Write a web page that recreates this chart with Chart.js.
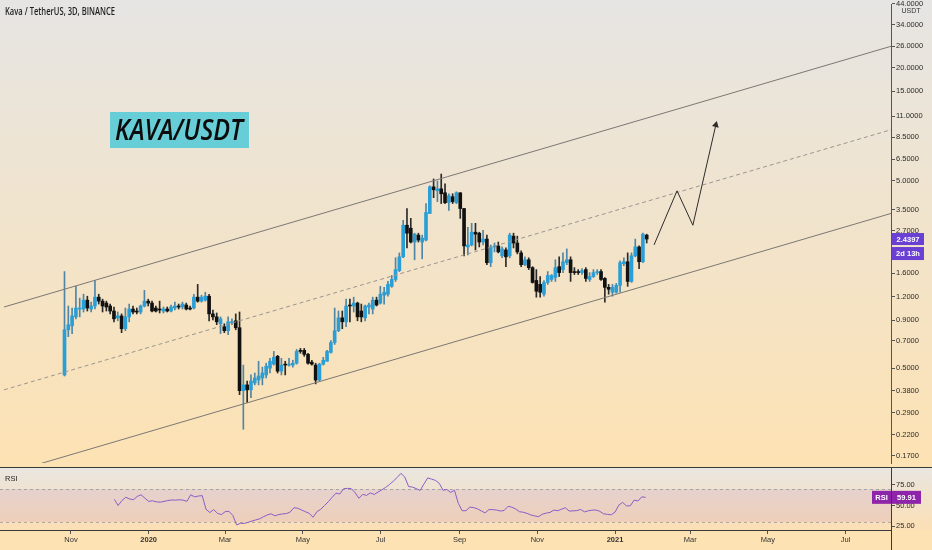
<!DOCTYPE html>
<html>
<head>
<meta charset="utf-8">
<title>KAVA/USDT</title>
<script src="https://cdn.jsdelivr.net/npm/chart.js"></script>
<style>
  body { margin: 0; background: #fde2b3; }
  #wrap { position: relative; width: 932px; height: 550px; overflow: hidden; }
  #pricePane {
    position: absolute; left: 0; top: 0; width: 932px; height: 467px;
    background: linear-gradient(#e6e5e3, #fde2b3);
  }
  #rsiPane {
    position: absolute; left: 0; top: 467px; width: 932px; height: 83px;
    background: linear-gradient(#e9e6e1 0px, #fbdfb5 63px, #fde2b3 63px);
  }
  canvas { display: block; }
</style>
</head>
<body>
<div id="wrap">
  <div id="pricePane"><canvas id="priceChart" width="932" height="467"></canvas></div>
  <div id="rsiPane"><canvas id="rsiChart" width="932" height="83"></canvas></div>
</div>

<script>
  // days are counted from 1 Nov 2019, one candle every 3 days
  const firstDay = -8;
  const stepDays = 3;

  const opens = [
    0.460, 0.801, 0.841, 0.938, 1.033, 1.033, 1.152, 1.033, 1.072, 1.195,
    1.138, 1.111, 1.072, 1.008, 0.927, 0.949, 0.811, 0.938, 1.033, 1.008,
    0.996, 1.072, 1.138, 1.111, 1.046, 1.033, 1.008, 1.033, 1.008, 1.046,
    1.072, 1.059, 1.085, 1.046, 1.046, 1.195, 1.138, 1.152, 1.209, 0.973,
    0.938, 0.862, 0.831, 0.792, 0.872, 0.894, 0.821, 0.379, 0.407, 0.383,
    0.417, 0.432, 0.443, 0.460, 0.500, 0.525, 0.578, 0.482, 0.525, 0.519,
    0.519, 0.531, 0.622, 0.622, 0.592, 0.538, 0.519, 0.432, 0.525, 0.544,
    0.607, 0.685, 0.792, 0.927, 0.883, 1.085, 1.072, 1.111, 1.008, 0.927,
    1.059, 1.033, 1.152, 1.111, 1.224, 1.239, 1.365, 1.485, 1.656, 1.961,
    2.889, 2.786, 2.351, 2.559, 2.351, 2.409, 3.340, 4.630, 4.410, 4.519,
    4.305, 3.815, 4.102, 3.815, 4.305, 3.548, 2.214, 2.268, 2.653, 2.621,
    2.351, 2.438, 1.824, 2.214, 2.241, 1.985, 2.134, 1.985, 2.528, 2.323,
    2.058, 1.780, 1.891, 1.717, 1.467, 1.398, 1.239, 1.432, 1.485, 1.522,
    1.738, 1.676, 1.824, 1.891, 1.636, 1.636, 1.616, 1.676, 1.485, 1.540,
    1.616, 1.636, 1.504, 1.348, 1.269, 1.269, 1.381, 1.802, 1.846, 1.450,
    1.985, 2.214, 1.846, 2.559
  ];
  const highs = [
    1.636, 1.072, 1.046, 1.365, 1.181, 1.239, 1.209, 1.124, 1.467, 1.239,
    1.166, 1.138, 1.098, 1.059, 0.996, 0.973, 1.046, 1.098, 1.072, 1.046,
    1.085, 1.300, 1.166, 1.138, 1.072, 1.138, 1.059, 1.059, 1.085, 1.124,
    1.098, 1.124, 1.111, 1.072, 1.239, 1.398, 1.224, 1.269, 1.239, 1.021,
    0.984, 0.938, 0.862, 0.938, 0.916, 0.973, 0.996, 0.519, 0.427, 0.460,
    0.471, 0.544, 0.506, 0.531, 0.564, 0.614, 0.585, 0.564, 0.544, 0.564,
    0.551, 0.629, 0.637, 0.637, 0.600, 0.551, 0.531, 0.531, 0.571, 0.622,
    0.702, 1.046, 1.008, 1.008, 1.166, 1.166, 1.195, 1.124, 1.098, 1.085,
    1.111, 1.195, 1.195, 1.365, 1.348, 1.450, 1.559, 1.938, 2.058, 3.068,
    3.548, 3.144, 2.621, 2.621, 2.559, 3.769, 4.686, 5.100, 4.977, 5.417,
    4.800, 4.253, 4.253, 4.357, 4.305, 3.548, 2.820, 2.959, 2.959, 2.653,
    2.718, 2.559, 2.268, 2.323, 2.351, 2.214, 2.187, 2.621, 2.621, 2.528,
    2.108, 1.961, 1.938, 1.738, 1.676, 1.540, 1.467, 1.636, 1.578, 1.891,
    1.961, 2.058, 2.161, 1.961, 1.717, 1.676, 1.696, 1.717, 1.616, 1.676,
    1.676, 1.676, 1.522, 1.398, 1.398, 1.415, 1.868, 1.938, 2.058, 2.058,
    2.438, 2.241, 2.621, 2.590
  ];
  const lows = [
    0.454, 0.736, 0.764, 0.916, 0.938, 0.996, 1.008, 0.996, 1.033, 1.098,
    0.996, 1.008, 0.973, 0.883, 0.894, 0.773, 0.792, 0.883, 0.973, 0.973,
    0.973, 1.059, 1.072, 0.996, 0.996, 0.984, 0.984, 0.996, 0.996, 1.021,
    1.033, 1.033, 1.021, 1.021, 1.033, 1.124, 1.124, 1.138, 0.894, 0.905,
    0.852, 0.764, 0.773, 0.754, 0.852, 0.801, 0.361, 0.236, 0.328, 0.348,
    0.407, 0.407, 0.407, 0.443, 0.471, 0.519, 0.471, 0.460, 0.460, 0.512,
    0.506, 0.525, 0.600, 0.578, 0.525, 0.519, 0.412, 0.427, 0.519, 0.544,
    0.600, 0.669, 0.782, 0.811, 0.831, 0.883, 0.996, 0.894, 0.883, 0.894,
    0.973, 0.973, 1.072, 1.098, 1.098, 1.209, 1.348, 1.450, 1.636, 1.938,
    2.187, 2.323, 1.891, 2.351, 1.914, 2.380, 3.340, 4.053, 3.861, 3.769,
    3.769, 3.463, 3.769, 3.769, 3.144, 1.985, 2.009, 2.241, 2.134, 2.214,
    2.268, 1.780, 1.738, 2.083, 2.058, 1.938, 1.738, 1.938, 2.187, 2.034,
    1.738, 1.759, 1.676, 1.420, 1.195, 1.195, 1.209, 1.398, 1.450, 1.450,
    1.540, 1.616, 1.780, 1.450, 1.578, 1.578, 1.578, 1.450, 1.450, 1.522,
    1.578, 1.467, 1.124, 1.239, 1.209, 1.254, 1.269, 1.759, 1.365, 1.432,
    1.961, 1.696, 1.824, 2.323
  ];
  const closes = [
    0.801, 0.852, 0.949, 1.046, 1.046, 1.152, 1.046, 1.072, 1.195, 1.138,
    1.072, 1.059, 1.008, 0.916, 0.949, 0.811, 0.938, 1.033, 0.996, 0.996,
    1.072, 1.138, 1.111, 1.008, 1.008, 1.021, 1.033, 1.008, 1.059, 1.072,
    1.059, 1.098, 1.033, 1.033, 1.195, 1.138, 1.195, 1.209, 0.973, 0.938,
    0.883, 0.916, 0.792, 0.883, 0.883, 0.821, 0.379, 0.407, 0.383, 0.427,
    0.443, 0.454, 0.471, 0.512, 0.544, 0.571, 0.482, 0.519, 0.519, 0.525,
    0.531, 0.614, 0.614, 0.592, 0.531, 0.525, 0.432, 0.525, 0.551, 0.614,
    0.685, 0.792, 0.927, 0.883, 1.072, 1.072, 1.111, 0.938, 0.938, 1.072,
    1.085, 1.152, 1.085, 1.239, 1.269, 1.398, 1.485, 1.676, 1.961, 2.889,
    2.621, 2.351, 2.590, 2.409, 2.468, 3.380, 4.630, 4.465, 4.519, 4.253,
    3.815, 4.152, 3.861, 4.305, 3.548, 2.241, 2.268, 2.653, 2.590, 2.351,
    2.438, 1.824, 2.214, 2.241, 2.083, 2.161, 1.961, 2.559, 2.323, 2.083,
    1.780, 1.891, 1.717, 1.432, 1.285, 1.269, 1.432, 1.559, 1.559, 1.717,
    1.616, 1.846, 1.891, 1.616, 1.616, 1.616, 1.656, 1.504, 1.540, 1.616,
    1.636, 1.485, 1.348, 1.316, 1.348, 1.381, 1.824, 1.846, 1.450, 1.985,
    2.214, 1.846, 2.590, 2.4397
  ];

  // RSI(14), first value on candle 14
  const rsiStart = 14;
  const rsiValues = [
    57.5, 50, 56, 60, 58, 57, 61, 63, 59, 55,
    55.7, 54.5, 54, 55, 56, 56.7, 56.5, 57, 56.5, 55,
    63, 60.5, 61.5, 62, 45.4, 41.5, 45, 40.5, 39, 42.5,
    43, 38, 26.5, 28.4, 28.3, 29.5, 31.2, 32.5, 33.8, 36.3,
    38.5, 40, 37.5, 39, 39.8, 40.2, 42, 47.3, 46.7, 44.5,
    42.5, 40.5, 35.7, 42.5, 45.4, 50, 54.6, 60, 65, 63.9,
    70.4, 70.8, 70.5, 65.5, 58.8, 63.5, 62.3, 65.3, 63.4, 66.3,
    69, 72, 75.5, 79.5, 84, 89, 84.5, 73, 72.3, 70.5,
    68.2, 76, 83.5, 82, 80.5, 77, 68.5, 69.5, 65.8, 68.5,
    52.7, 43.7, 43.7, 48, 47.5, 46, 43.5, 41, 45, 45,
    44.5, 43.3, 44, 49, 48, 45.8, 42.5, 41.8, 40.5, 38.5,
    37.4, 36.4, 39.5, 40.8, 41.6, 44.5, 43.7, 45.5, 47.3, 43.3,
    43.5, 43.8, 45.2, 42.3, 43.5, 44.4, 44.5, 43, 40, 39.3,
    38.7, 42, 50.5, 53.8, 49.5, 49.7, 56.5, 55.5, 60.5, 59.91
  ];

  // drawn channel and projection, [day, price]
  const upperLine = [[-55.7, 1.059], [643.6, 26.0]];
  const middleLine = [[-55.7, 0.383], [643.6, 9.33]];
  const lowerLine = [[-55.7, 0.1357], [643.6, 3.34]];
  const projection = [[456.8, 2.27], [474.9, 4.41], [487.4, 2.89], [505.5, 9.9]];

  const monthDays = [0, 61, 121, 182, 243, 305, 366, 427, 486, 547, 608];
  const monthLabels = ["Nov", "2020", "Mar", "May", "Jul", "Sep", "Nov", "2021", "Mar", "May", "Jul"];
  const priceTicks = [44, 34, 26, 20, 15, 11, 8.5, 6.5, 5, 3.5, 2.7, 1.6, 1.2, 0.9, 0.7, 0.5, 0.38, 0.29, 0.22, 0.17];
  const rsiTicks = [25, 50, 75];

  const days = opens.map((_, i) => firstDay + i * stepDays);
  const xMin = -55.7, xMax = 643.6;
  const isUp = closes.map((c, i) => c >= opens[i]);
  const toXY = (pts) => pts.map((p) => ({ x: p[0], y: p[1] }));

  Chart.defaults.font.family = "'Liberation Sans', Arial, sans-serif";
  Chart.defaults.font.size = 7.5;

  // squeeze a text to a given width so it sits like the reference
  function fitText(ctx, text, x, y, width, font, color) {
    ctx.save();
    ctx.font = font;
    ctx.fillStyle = color;
    ctx.textBaseline = "alphabetic";
    ctx.textAlign = "left";
    const w = ctx.measureText(text).width;
    ctx.translate(x, y);
    ctx.scale(width / w, 1);
    ctx.fillText(text, 0, 0);
    ctx.restore();
  }

  const priceOverlay = {
    id: "priceOverlay",
    afterDraw(chart) {
      const ctx = chart.ctx;
      const yScale = chart.scales.y;
      fitText(ctx, "Kava / TetherUS, 3D, BINANCE", 5, 14.5, 110, "600 10px 'Open Sans'", "#1e1e1e");

      ctx.save();
      ctx.fillStyle = "#333";
      ctx.font = "7px 'Liberation Sans'";
      ctx.textAlign = "center";
      ctx.textBaseline = "alphabetic";
      ctx.fillText("USDT", 911, 12.5);

      // name tag
      ctx.fillStyle = "#67cdd6";
      ctx.fillRect(110, 112, 139, 36);
      ctx.restore();
      fitText(ctx, "KAVA/USDT", 115, 139.5, 128, "italic 600 29px 'Open Sans'", "#0c0c0c");

      // last price tag
      const last = closes[closes.length - 1];
      const py = yScale.getPixelForValue(last);
      ctx.save();
      ctx.fillStyle = "#6a3fd3";
      ctx.fillRect(892, py - 6, 32, 12);
      ctx.fillRect(892, py + 8, 32, 13);
      ctx.fillStyle = "#ffffff";
      ctx.font = "bold 7.5px 'Liberation Sans'";
      ctx.textAlign = "center";
      ctx.textBaseline = "middle";
      ctx.fillText(last.toFixed(4), 908, py + 0.5);
      ctx.fillText("2d 13h", 908, py + 14.5);
      ctx.restore();
    }
  };

  const rsiOverlay = {
    id: "rsiOverlay",
    beforeDatasetsDraw(chart) {
      const ctx = chart.ctx;
      const area = chart.chartArea;
      const y = chart.scales.y;
      const y70 = y.getPixelForValue(70);
      const y30 = y.getPixelForValue(30);
      ctx.save();
      ctx.fillStyle = "rgba(150, 60, 180, 0.1)";
      ctx.fillRect(area.left, y70, area.right - area.left, y30 - y70);
      ctx.strokeStyle = "rgba(120, 123, 134, 0.55)";
      ctx.lineWidth = 1;
      ctx.setLineDash([3, 3]);
      [y70, y30].forEach((yy) => {
        ctx.beginPath();
        ctx.moveTo(area.left, Math.round(yy) + 0.5);
        ctx.lineTo(area.right, Math.round(yy) + 0.5);
        ctx.stroke();
      });
      ctx.restore();
    },
    afterDraw(chart) {
      const ctx = chart.ctx;
      const y = chart.scales.y;
      ctx.save();
      ctx.strokeStyle = "#3a3a3a";
      ctx.lineWidth = 1;
      ctx.beginPath();
      ctx.moveTo(0, 0.5);
      ctx.lineTo(932, 0.5);
      ctx.moveTo(891.5, 0);
      ctx.lineTo(891.5, 83);
      ctx.stroke();

      ctx.fillStyle = "#222";
      ctx.font = "7.5px 'Liberation Sans'";
      ctx.textBaseline = "alphabetic";
      ctx.fillText("RSI", 5, 13.5);

      const last = rsiValues[rsiValues.length - 1];
      const py = y.getPixelForValue(last);
      ctx.fillStyle = "#8e24aa";
      ctx.fillRect(872, py - 6.5, 19, 13);
      ctx.fillRect(892, py - 6.5, 29, 13);
      ctx.fillStyle = "#ffffff";
      ctx.font = "bold 7.5px 'Liberation Sans'";
      ctx.textAlign = "center";
      ctx.textBaseline = "middle";
      ctx.fillText("RSI", 881.5, py + 0.5);
      ctx.fillText(last.toFixed(2), 906.5, py + 0.5);
      ctx.restore();
    }
  };

  new Chart(document.getElementById("priceChart"), {
    type: "bar",
    data: {
      datasets: [
        {
          type: "line",
          data: toXY(upperLine),
          borderColor: "#7b7773",
          borderWidth: 1,
          pointRadius: 0,
          order: 1,
        },
        {
          type: "line",
          data: toXY(middleLine),
          borderColor: "#9a9590",
          borderWidth: 1,
          borderDash: [4, 3],
          pointRadius: 0,
          order: 1,
        },
        {
          type: "line",
          data: toXY(lowerLine),
          borderColor: "#7b7773",
          borderWidth: 1,
          pointRadius: 0,
          order: 1,
        },
        {
          type: "line",
          data: toXY(projection),
          borderColor: "#2c2c2c",
          borderWidth: 1,
          pointRadius: [0, 0, 0, 4],
          pointStyle: "triangle",
          rotation: 14,
          pointBackgroundColor: "#2c2c2c",
          pointBorderWidth: 0,
          order: 0,
        },
        {
          label: "wicks",
          data: days.map((d, i) => ({ x: d, y: [lows[i], highs[i]] })),
          backgroundColor: isUp.map((u) => (u ? "#4f86a6" : "#2a2a2a")),
          barThickness: 1,
          grouped: false,
          order: 3,
        },
        {
          label: "bodies",
          data: days.map((d, i) => ({ x: d, y: [opens[i], closes[i]] })),
          backgroundColor: isUp.map((u) => (u ? "#2a9fd7" : "#111111")),
          barThickness: 3,
          minBarLength: 1,
          grouped: false,
          order: 2,
        },
      ],
    },
    options: {
      responsive: false,
      animation: false,
      layout: { padding: 0 },
      plugins: { legend: { display: false }, tooltip: { enabled: false } },
      scales: {
        x: { type: "linear", min: xMin, max: xMax, offset: false, display: false },
        y: {
          type: "logarithmic",
          position: "right",
          min: 0.156,
          max: 43.7,
          afterBuildTicks: (s) => {
            s.ticks = priceTicks.map((v) => ({ value: v }));
          },
          afterFit: (s) => {
            s.width = 41;
            s.paddingTop = 0;
            s.paddingBottom = 0;
          },
          ticks: {
            autoSkip: false,
            padding: 1,
            color: "#2a2a2a",
            callback: (v) => Number(v).toFixed(4),
          },
          grid: { display: true, drawOnChartArea: false, drawTicks: true, tickLength: 4, color: "#555" },
          border: { display: true, color: "#555" },
        },
      },
    },
    plugins: [priceOverlay],
  });

  new Chart(document.getElementById("rsiChart"), {
    type: "line",
    data: {
      datasets: [
        {
          data: rsiValues.map((v, k) => ({ x: days[rsiStart + k], y: v })),
          borderColor: "#8a5cc6",
          borderWidth: 1,
          pointRadius: 0,
        },
      ],
    },
    options: {
      responsive: false,
      animation: false,
      layout: { padding: 0 },
      plugins: { legend: { display: false }, tooltip: { enabled: false } },
      scales: {
        x: {
          type: "linear",
          min: xMin,
          max: xMax,
          offset: false,
          afterBuildTicks: (s) => {
            s.ticks = monthDays.map((v) => ({ value: v }));
          },
          afterFit: (s) => {
            s.height = 20;
            s.paddingLeft = 0;
            s.paddingRight = 0;
          },
          ticks: {
            autoSkip: false,
            maxRotation: 0,
            padding: 1,
            color: "#333",
            font: (c) => ({ size: 7.5, weight: c.tick && /^\d{4}$/.test(c.tick.label) ? "bold" : "normal" }),
            callback: (v, i) => monthLabels[i],
          },
          grid: { display: true, drawOnChartArea: false, drawTicks: true, tickLength: 4, color: "#555" },
          border: { display: true, color: "#3a3a3a" },
        },
        y: {
          position: "right",
          min: 20.3,
          max: 96.7,
          afterBuildTicks: (s) => {
            s.ticks = rsiTicks.map((v) => ({ value: v }));
          },
          afterFit: (s) => {
            s.width = 41;
            s.paddingTop = 0;
            s.paddingBottom = 0;
          },
          ticks: {
            autoSkip: false,
            padding: 1,
            color: "#2a2a2a",
            callback: (v) => Number(v).toFixed(2),
          },
          grid: { display: true, drawOnChartArea: false, drawTicks: true, tickLength: 4, color: "#555" },
          border: { display: true, color: "#555" },
        },
      },
    },
    plugins: [rsiOverlay],
  });
</script>
</body>
</html>
